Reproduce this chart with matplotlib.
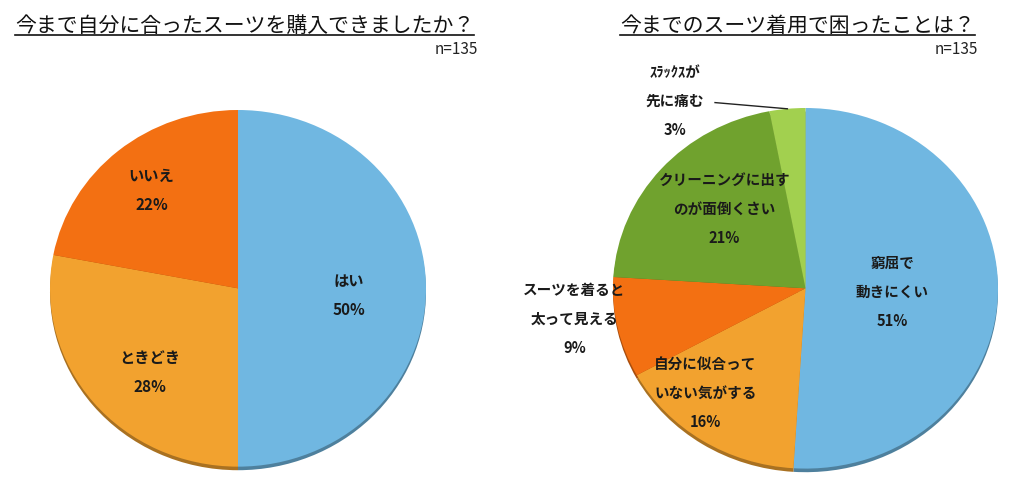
import matplotlib.pyplot as plt
import numpy as np
from matplotlib.lines import Line2D
from matplotlib.colors import to_rgb


plt.rcParams['font.family'] = ['Noto Sans CJK JP', 'DejaVu Sans']

# 左: 今まで自分に合ったスーツを購入できましたか？
q1_title = "今まで自分に合ったスーツを購入できましたか？"
q1_labels = ["はい", "ときどき", "いいえ"]
q1_values = [50, 28, 22]

# 右: 今までのスーツ着用で困ったことは？
q2_title = "今までのスーツ着用で困ったことは？"
q2_labels = ["窮屈で\n動きにくい", "自分に似合って\nいない気がする", "スーツを着ると\n太って見える",
             "クリーニングに出す\nのが面倒くさい", "ｽﾗｯｸｽが\n先に痛む"]
q2_values = [51, 16, 9, 21, 3]

sample_n = 135


def main():

    fig = plt.figure(figsize=(10.36, 4.94), dpi=100)
    W, H = 1036, 494

    # 円グラフ1
    ax1 = fig.add_axes([50 / W, 1 - 472 / H, 376 / W, 362 / H])
    colors1 = ["#70B7E1", "#F2A22F", "#F37012"]
    pos1 = [(0.59, -0.04), (-0.47, -0.47), (-0.46, 0.55)]
    DrawPie(ax1, q1_values, q1_labels, colors1, pos1, 11)

    # 円グラフ2
    ax2 = fig.add_axes([613 / W, 1 - 474 / H, 385 / W, 366 / H])
    colors2 = ["#70B7E1", "#F2A22F", "#F37012", "#70A22E", "#A2D04F"]
    pos2 = [(0.45, -0.02), (-0.52, -0.58), (-1.20, -0.17), (-0.42, 0.44), (-0.68, 1.04)]
    wedges = DrawPie(ax2, q2_values, q2_labels, colors2, pos2, 10.5)

    # 3%のラベル用の引き出し線
    w = wedges[-1]
    mid = np.deg2rad((w.theta1 + w.theta2) / 2)
    ax2.plot([-0.47, np.cos(mid)], [1.03, np.sin(mid)], color="#222222", lw=1, clip_on=False)

    # タイトル
    t1 = fig.text(15 / W, 1 - 32 / H, q1_title, fontsize=15, color="#111111")
    t2 = fig.text(620 / W, 1 - 32 / H, q2_title, fontsize=15, color="#111111")
    fig.text(478 / W, 1 - 54 / H, "n=%d" % sample_n, fontsize=11, ha="right", color="#222222")
    fig.text(978 / W, 1 - 54 / H, "n=%d" % sample_n, fontsize=11, ha="right", color="#222222")

    # 下線
    fig.canvas.draw()
    r = fig.canvas.get_renderer()
    for t in [t1, t2]:
        bb = t.get_window_extent(r).transformed(fig.transFigure.inverted())
        fig.add_artist(Line2D([bb.x0, bb.x1], [1 - 35 / H] * 2, color="#111111", lw=1.2))

    fig.savefig("out.png", dpi=100)

    return


def DrawPie(ax, values, labels, colors, positions, fsize):
    """
    Draw pie with a thin darker rim at the bottom
    """

    dark = [tuple(c * 0.7 for c in to_rgb(col)) for col in colors]
    ax.pie(values, colors=dark, startangle=90, counterclock=False, center=(0, -0.02))
    wedges, _ = ax.pie(values, colors=colors, startangle=90, counterclock=False,
                       wedgeprops=dict(linewidth=0))

    for lab, v, (x, y) in zip(labels, values, positions):
        ax.text(x, y, "%s\n%d%%" % (lab, v), ha="center", va="center", fontsize=fsize,
                fontweight="bold", linespacing=2.0, color="#1a1a1a")

    ax.set_aspect("auto")
    ax.set_xlim(-1, 1)
    ax.set_ylim(-1.03, 1)
    ax.axis("off")

    return wedges


if __name__ == "__main__":
    main()
